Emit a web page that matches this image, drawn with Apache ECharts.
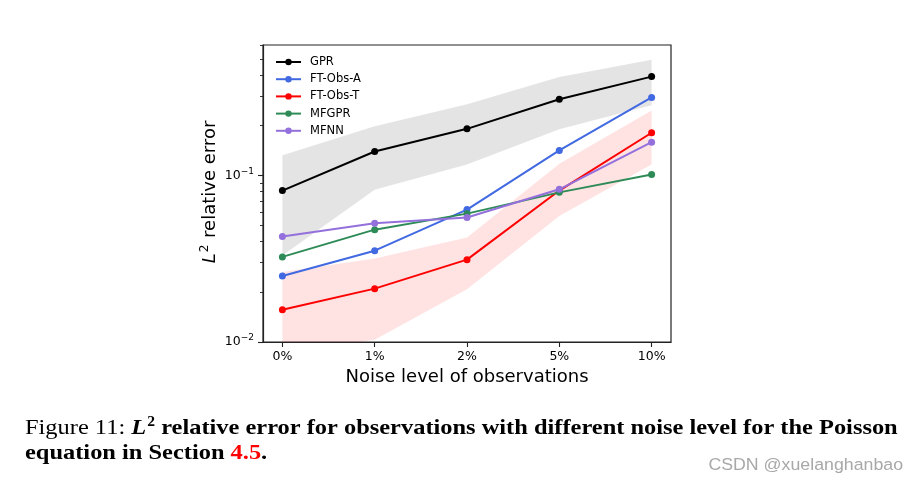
<!DOCTYPE html>
<html>
<head>
<meta charset="utf-8">
<script src="https://cdn.jsdelivr.net/npm/echarts@6/dist/echarts.min.js"></script>
<style>html,body{margin:0;padding:0;background:#fff;}#c{width:918px;height:487px;}</style>
</head>
<body>
<div id="c"></div>
<script>
const categories = ['0%', '1%', '2%', '5%', '10%'];
const seriesNames = ['GPR', 'FT-Obs-A', 'FT-Obs-T', 'MFGPR', 'MFNN'];
const gpr   = [0.081, 0.139, 0.190, 0.286, 0.391];
const gprLo = [0.033, 0.082, 0.116, 0.189, 0.263];
const gprHi = [0.132, 0.197, 0.267, 0.389, 0.494];
const ftA   = [0.0249, 0.0353, 0.0623, 0.141, 0.293];
const ftT   = [0.0156, 0.0209, 0.0312, 0.081, 0.180];
const ftTLo = [0.0085, 0.0103, 0.0207, 0.057, 0.116];
const ftTHi = [0.0263, 0.0317, 0.0423, 0.1175, 0.245];
const mfgpr = [0.0324, 0.0472, 0.0589, 0.079, 0.101];
const mfnn  = [0.043, 0.0515, 0.0558, 0.0824, 0.158];
const yMajorTicks = [0.01, 0.1];
const yMinorTicks = [0.02,0.03,0.04,0.05,0.06,0.07,0.08,0.09,0.2,0.3,0.4,0.5,0.6];

const chart = echarts.init(document.getElementById('c'), null, {renderer: 'canvas'});
const FONT = 'DejaVu Sans';
const idx = categories.map((_, i) => i);
function pts(arr) { return arr.map((v, i) => [i, v]); }

function bandSeries(lo, hi, color) {
  return {
    type: 'custom',
    clip: true,
    silent: true,
    z: 1,
    data: idx.map(i => [i, lo[i], hi[i]]),
    renderItem: function (params, api) {
      if (params.dataIndex !== 0) return null;
      const up = [], dn = [];
      for (let i = 0; i < idx.length; i++) {
        up.push(api.coord([i, hi[i]]));
        dn.push(api.coord([i, lo[i]]));
      }
      return {
        type: 'polygon',
        shape: {points: up.concat(dn.reverse())},
        style: {fill: color, stroke: null}
      };
    }
  };
}

const colors = ['#000000', '#4169e1', '#ff0000', '#2e8b57', '#9370db'];
const values = [gpr, ftA, ftT, mfgpr, mfnn];

const lineSeries = seriesNames.map((n, k) => ({
  name: n,
  type: 'line',
  data: pts(values[k]),
  symbol: 'circle',
  symbolSize: 7,
  showSymbol: true,
  z: 3 + k,
  lineStyle: {color: colors[k], width: 2},
  itemStyle: {color: colors[k], borderWidth: 0},
  emphasis: {disabled: true},
  animation: false
}));

const option = {
  animation: false,
  backgroundColor: '#ffffff',
  grid: {left: 263, top: 45, right: 247, bottom: 145, show: true, borderColor: '#222', borderWidth: 1.2, backgroundColor: 'transparent'},
  legend: {
    data: seriesNames,
    orient: 'vertical',
    left: 275,
    top: 56,
    padding: 0,
    itemWidth: 25,
    itemHeight: 8,
    itemGap: 5.2,
    textStyle: {fontFamily: FONT, fontSize: 11.5, lineHeight: 12, color: '#000', padding: [0, 0, 0, 4]},
    selectedMode: false
  },
  xAxis: {
    type: 'value',
    min: -0.21,
    max: 4.21,
    splitLine: {show: false},
    axisLine: {show: true, onZero: false, lineStyle: {color: '#222', width: 1.2}},
    axisTick: {show: true, customValues: idx, length: 5, lineStyle: {color: '#222', width: 1.1}},
    axisLabel: {customValues: idx, formatter: v => categories[Math.round(v)], fontFamily: FONT, fontSize: 12.5, color: '#000', margin: 8},
    name: 'Noise level of observations',
    nameLocation: 'middle',
    nameGap: 23.5,
    nameTextStyle: {fontFamily: FONT, fontSize: 18, color: '#000'}
  },
  yAxis: [{
    type: 'log',
    logBase: 10,
    min: 0.01,
    max: 0.605,
    position: 'left',
    splitLine: {show: false},
    axisLine: {show: true, onZero: false, lineStyle: {color: '#222', width: 1.2}},
    axisTick: {show: true, customValues: yMajorTicks, length: 5, lineStyle: {color: '#222', width: 1.1}},
    axisLabel: {
      customValues: yMajorTicks,
      formatter: v => '10{s|\u2212' + Math.round(-Math.log10(v)) + '}',
      fontFamily: FONT, fontSize: 12.5, color: '#000', margin: 9,
      rich: {s: {fontFamily: FONT, fontSize: 9, color: '#000', verticalAlign: 'top', padding: [0, 0, 8, 0]}}
    }
  }, {
    type: 'log',
    logBase: 10,
    min: 0.01,
    max: 0.605,
    position: 'left',
    splitLine: {show: false},
    axisLine: {show: false, onZero: false},
    axisTick: {show: true, customValues: yMinorTicks, length: 3, lineStyle: {color: '#222', width: 0.9}},
    axisLabel: {show: false}
  }],
  series: [
    bandSeries(gprLo, gprHi, 'rgba(0,0,0,0.105)'),
    bandSeries(ftTLo, ftTHi, 'rgba(255,0,0,0.11)')
  ].concat(lineSeries),
  graphic: [
    {
      type: 'text', x: 210, y: 192, rotation: Math.PI / 2, z: 10,
      style: {
        text: '{i|L}{s|2}{n| relative error}',
        align: 'center', verticalAlign: 'middle',
        rich: {
          i: {fontFamily: FONT, fontStyle: 'italic', fontSize: 18, fill: '#000', lineHeight: 22},
          s: {fontFamily: FONT, fontSize: 12, fill: '#000', verticalAlign: 'top', padding: [0, 1, 10, 1]},
          n: {fontFamily: FONT, fontSize: 18, fill: '#000', lineHeight: 22}
        }
      }
    },
    {
      type: 'text', x: 25, y: 428, z: 10, scaleX: 1.11,
      style: {
        text: '{n|Figure 11: }{i|L}{s|2}{b| relative error for observations with different noise level for the Poisson}',
        verticalAlign: 'middle',
        rich: {
          n: {fontFamily: 'Liberation Serif', fontSize: 22, fill: '#000', lineHeight: 26},
          i: {fontFamily: 'Liberation Serif', fontStyle: 'italic', fontWeight: 'bold', fontSize: 22, fill: '#000', lineHeight: 26},
          s: {fontFamily: 'Liberation Serif', fontWeight: 'bold', fontSize: 14, fill: '#000', verticalAlign: 'top', padding: [0, 0, 11, 1]},
          b: {fontFamily: 'Liberation Serif', fontWeight: 'bold', fontSize: 22, fill: '#000', lineHeight: 26}
        }
      }
    },
    {
      type: 'text', x: 25, y: 453, z: 10, scaleX: 1.11,
      style: {
        text: '{b|equation in Section }{r|4.5}{b|.}',
        verticalAlign: 'middle',
        rich: {
          b: {fontFamily: 'Liberation Serif', fontWeight: 'bold', fontSize: 22, fill: '#000'},
          r: {fontFamily: 'Liberation Serif', fontWeight: 'bold', fontSize: 22, fill: '#ff0000'}
        }
      }
    },
    {
      type: 'text', x: 903, y: 466, z: 10, scaleX: 1.09,
      style: {text: 'CSDN @xuelanghanbao', align: 'right', verticalAlign: 'middle', fontFamily: 'Liberation Sans', fontSize: 16.3, fill: '#a8a8a8'}
    }
  ]
};
chart.setOption(option);
</script>
</body>
</html>
